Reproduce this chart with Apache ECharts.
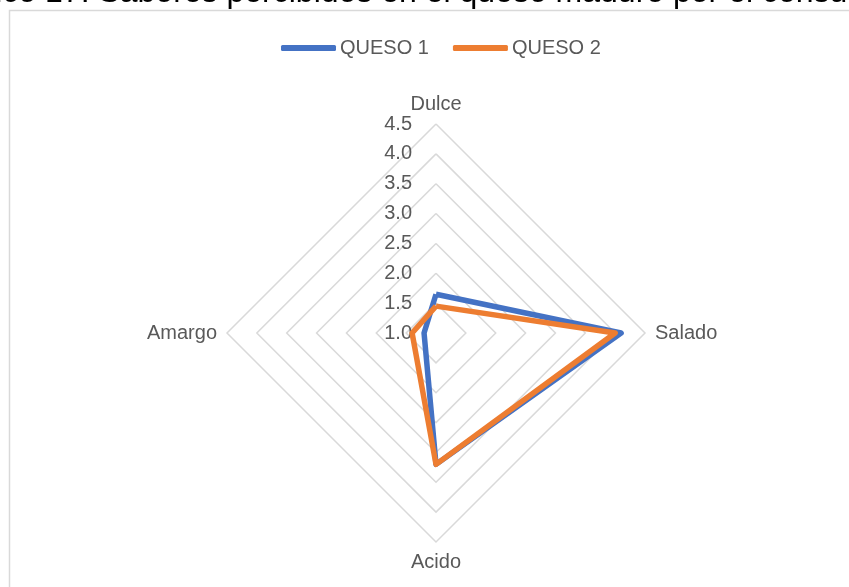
<!DOCTYPE html>
<html>
<head>
<meta charset="utf-8">
<script src="https://cdn.jsdelivr.net/npm/echarts@6/dist/echarts.min.js"></script>
<style>
  html, body { margin: 0; padding: 0; background: #ffffff; }
  #chart { width: 849px; height: 587px; }
</style>
</head>
<body>
<div id="chart"></div>
<script>
// Taste attributes, listed counter-clockwise from the top axis
const attributes = ['Dulce', 'Amargo', 'Acido', 'Salado'];
const seriesNames = ['QUESO 1', 'QUESO 2'];
const queso1 = [1.65, 1.2, 3.2, 4.1];
const queso2 = [1.45, 1.4, 3.2, 4.0];
const scaleMin = 1.0;
const scaleMax = 4.5;
const scaleSteps = 7;
const titleText = 'Gráfico 17: Sabores percibidos en el queso maduro por el consumidor';

const labelColor = '#595959';
const uiFont = 'Liberation Sans, Arial, sans-serif';

const chart = echarts.init(document.getElementById('chart'), null, { renderer: 'canvas' });

const indicators = attributes.map((name, i) => ({
  name: name,
  min: scaleMin,
  max: scaleMax,
  // only the top axis carries the value labels
  axisLabel: { show: i === 0 }
}));

chart.setOption({
  backgroundColor: '#ffffff',
  animation: false,
  color: ['#4472C4', '#ED7D31'],
  graphic: [
    {
      type: 'rect',
      silent: true,
      shape: { x: 9.5, y: 10.5, width: 900, height: 700 },
      style: { fill: 'none', stroke: '#d9d9d9', lineWidth: 1.5 }
    },
    {
      type: 'text',
      silent: true,
      x: -67,
      y: -7,
      style: {
        text: titleText,
        font: '32px ' + uiFont,
        fill: '#000000',
        textAlign: 'left',
        textVerticalAlign: 'middle'
      }
    }
  ],
  legend: {
    data: seriesNames,
    left: 276,
    top: 33,
    itemWidth: 55,
    itemHeight: 6,
    itemGap: 24,
    icon: 'roundRect',
    textStyle: { color: labelColor, fontSize: 20, fontFamily: uiFont, padding: [0, 0, 0, -1] }
  },
  radar: {
    center: [436, 333],
    radius: 209,
    startAngle: 90,
    shape: 'polygon',
    splitNumber: scaleSteps,
    indicator: indicators,
    nameGap: 10,
    axisName: { color: labelColor, fontSize: 20, fontFamily: uiFont },
    axisLine: { show: false },
    axisTick: { show: false },
    axisLabel: {
      show: true,
      margin: 24,
      color: labelColor,
      fontSize: 20,
      fontFamily: uiFont,
      formatter: v => Number(v).toFixed(1)
    },
    splitLine: { lineStyle: { color: '#d9d9d9', width: 1.5 } },
    splitArea: { show: false }
  },
  series: [{
    type: 'radar',
    symbol: 'none',
    lineStyle: { width: 5.5, join: 'round' },
    data: [
      { name: seriesNames[0], value: queso1, lineStyle: { width: 5.5, color: '#4472C4' } },
      { name: seriesNames[1], value: queso2, lineStyle: { width: 5.5, color: '#ED7D31' } }
    ]
  }]
});
</script>
</body>
</html>
